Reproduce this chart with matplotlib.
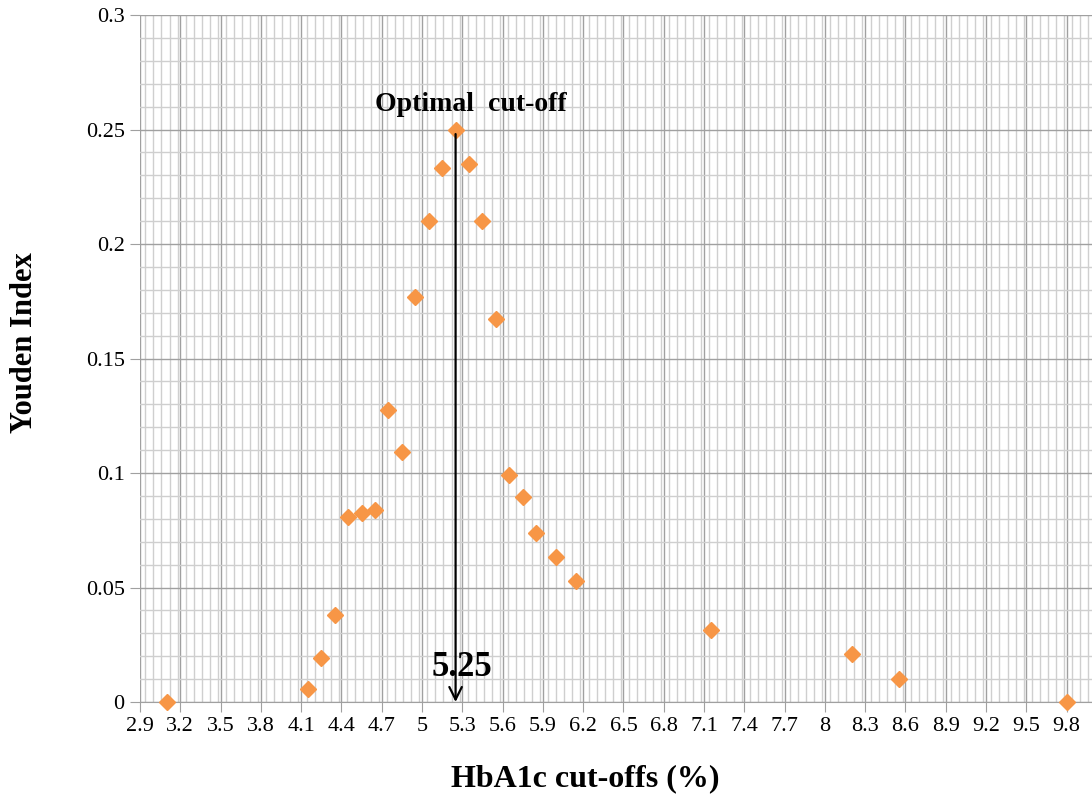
import matplotlib.pyplot as plt
from matplotlib.ticker import MultipleLocator

# HbA1c cut-offs (%) and Youden index values
cutoffs = [3.1, 4.15, 4.25, 4.35, 4.45, 4.55, 4.65, 4.75, 4.85, 4.95,
           5.05, 5.15, 5.25, 5.35, 5.45, 5.55, 5.65, 5.75, 5.85, 6.0,
           6.15, 7.15, 8.2, 8.55, 9.8]
youden = [0.0, 0.0055, 0.019, 0.038, 0.081, 0.0825, 0.084, 0.1275, 0.109, 0.177,
          0.21, 0.233, 0.25, 0.235, 0.21, 0.1672, 0.0993, 0.0895, 0.0738, 0.0635,
          0.0528, 0.0315, 0.021, 0.0102, 0.0]
x_ticks = [round(2.9 + 0.3 * i, 1) for i in range(24)]
optimal = 5.25
optimal_y = 0.25

plt.rcParams['font.family'] = ['Liberation Serif', 'DejaVu Serif']

fig = plt.figure(figsize=(10.92, 7.98), dpi=100)
ax = fig.add_axes([0.1282, 0.1203, 0.8718, 0.8609])

ax.plot(cutoffs, youden, linestyle='none', marker='D', markersize=8,
        color='#F79646', zorder=5, clip_on=False)

ax.set_xlim(2.9, 9.989)
ax.set_ylim(0, 0.3)
ax.set_xticks(x_ticks)
ax.set_xticklabels([('%g' % t) for t in x_ticks])
ax.xaxis.set_minor_locator(MultipleLocator(0.06))
ax.yaxis.set_major_locator(MultipleLocator(0.05))
ax.yaxis.set_minor_locator(MultipleLocator(0.01))
ax.yaxis.set_major_formatter(plt.FuncFormatter(lambda v, p: '%g' % round(v, 2)))

ax.grid(which='major', color='#a0a0a0', linewidth=1.0, zorder=1)
ax.grid(which='minor', color='#cfcfcf', linewidth=1.0, zorder=0)
ax.set_axisbelow(True)
for s in ['top', 'right', 'left']:
    ax.spines[s].set_visible(False)
ax.spines['bottom'].set_color('#a0a0a0')
ax.tick_params(which='major', length=7, color='#a0a0a0', labelsize=16, pad=4)
ax.tick_params(which='minor', length=0)

# optimal cut-off arrow
ax.annotate('', xy=(optimal, 0.0), xytext=(optimal, optimal_y - 0.002),
            arrowprops=dict(arrowstyle='->,head_length=0.9,head_width=0.45',
                            color='black', lw=1.6, shrinkA=0, shrinkB=0),
            zorder=6)
ax.text(5.365, 0.261, 'Optimal  cut-off', ha='center', va='center',
        fontsize=20, fontweight='bold', zorder=7)
ax.text(5.30, 0.0149, '5.25', ha='center', va='center',
        fontsize=25, fontweight='bold', zorder=7)

ax.set_xlabel('HbA1c cut-offs (%)', fontsize=23, fontweight='bold')
ax.set_ylabel('Youden Index', fontsize=22, fontweight='bold')
ax.xaxis.set_label_coords(0.468, -0.090)
ax.yaxis.set_label_coords(-0.106, 0.523)

fig.savefig('out.png', dpi=100)
